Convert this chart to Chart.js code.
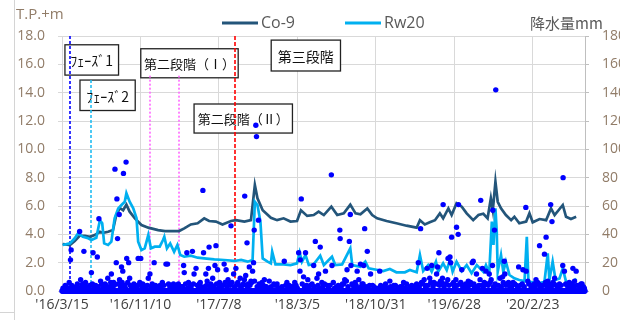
<!DOCTYPE html>
<html>
<head>
<meta charset="utf-8">
<script src="https://cdn.jsdelivr.net/npm/chart.js@4.4.1/dist/chart.umd.min.js"></script>
<style>
  body { margin: 0; background: #fff; }
  .wrap { position: relative; width: 620px; height: 322px; }
  .edge-v { position: absolute; left: 14px; top: 0; width: 1px; height: 320px; background: #d4d4d4; }
  .edge-h { position: absolute; left: 0; top: 312px; width: 14px; height: 1px; background: #d4d4d4; }
</style>
</head>
<body>
<div class="wrap">
  <canvas id="grafico" width="620" height="322"></canvas>
  <div class="edge-v"></div>
  <div class="edge-h"></div>
</div>
<script>
// day 0 = 2016/3/15, one x unit = one day
const baseYear = 2016, baseMonth = 2, baseDay = 15
const axisEndDay = 1600
const tickStepDays = 240

// groundwater level, T.P.+m : [day, level]
const co9 = [
  [2, 3.32], [24, 3.25], [39, 3.53], [54, 3.9], [70, 3.9], [85, 3.83], [100, 3.95],
  [116, 4.18], [126, 4.1], [141, 4.18], [156, 4.3], [166, 5.36], [177, 5.86], [187, 5.7],
  [197, 6.1], [207, 5.6], [223, 5.13], [243, 4.66], [264, 4.47], [294, 4.3], [315, 4.23],
  [358, 4.23], [374, 4.42], [394, 4.7], [415, 4.78], [435, 5.13], [450, 4.94], [471, 4.9],
  [491, 4.7], [517, 4.94], [532, 5.0], [558, 4.9], [578, 5.0], [590, 7.48], [598, 6.54],
  [614, 5.7], [639, 5.17], [658, 5.0], [678, 5.13], [699, 4.9], [719, 4.94], [731, 5.7],
  [750, 5.3], [770, 5.36], [785, 5.6], [801, 5.36], [824, 5.95], [842, 5.36], [862, 5.48],
  [882, 6.1], [898, 5.48], [913, 5.41], [934, 5.83], [949, 5.36], [964, 5.13], [993, 4.94],
  [1023, 4.78], [1054, 4.61], [1085, 4.47], [1095, 5.0], [1110, 4.7], [1125, 4.85],
  [1141, 5.0], [1156, 5.48], [1166, 5.13], [1182, 5.83], [1192, 5.36], [1207, 6.19],
  [1223, 5.95], [1238, 5.48], [1258, 5.0], [1274, 5.36], [1289, 5.45], [1302, 5.13],
  [1312, 6.54], [1318, 5.7], [1326, 7.71], [1333, 6.3], [1343, 5.83], [1358, 5.36],
  [1374, 5.0], [1384, 5.24], [1399, 4.78], [1420, 4.9], [1430, 5.48], [1440, 4.85],
  [1461, 5.08], [1481, 5.0], [1496, 5.83], [1507, 5.36], [1532, 6.07], [1542, 5.24],
  [1557, 5.08], [1573, 5.24]
]

const rw20 = [
  [2, 3.25], [24, 3.36], [39, 3.72], [49, 4.07], [64, 3.83], [80, 3.72], [90, 3.6],
  [105, 3.76], [116, 5.0], [123, 4.78], [129, 3.36], [141, 3.25], [151, 3.48], [161, 5.13],
  [172, 5.83], [182, 6.07], [192, 6.3], [197, 6.9], [207, 6.3], [218, 5.83], [228, 5.13],
  [233, 3.48], [243, 2.89], [253, 3.01], [264, 3.95], [272, 3.01], [284, 3.13], [299, 3.13],
  [309, 3.6], [313, 3.83], [321, 3.01], [331, 3.36], [343, 2.77], [353, 3.25], [362, 2.54],
  [374, 2.42], [394, 2.49], [415, 2.35], [435, 2.3], [466, 2.23], [496, 2.19], [527, 2.12],
  [548, 2.19], [568, 2.07], [583, 2.19], [590, 6.3], [598, 6.07], [607, 4.9], [614, 2.3],
  [629, 2.07], [639, 1.95], [643, 2.77], [653, 1.88], [678, 1.88], [699, 1.83], [719, 1.95],
  [727, 2.72], [734, 2.07], [745, 2.54], [755, 1.83], [770, 1.88], [790, 2.49], [801, 1.83],
  [816, 2.19], [826, 2.42], [836, 1.83], [857, 1.88], [882, 3.01], [888, 1.83], [913, 1.71],
  [928, 2.07], [938, 1.6], [962, 1.5], [983, 1.41], [1003, 1.55], [1023, 1.32], [1049, 1.32],
  [1064, 1.48], [1085, 1.32], [1095, 2.54], [1105, 1.41], [1120, 1.83], [1131, 1.36],
  [1144, 2.07], [1151, 1.36], [1166, 1.95], [1177, 1.48], [1187, 2.19], [1195, 1.36],
  [1207, 2.07], [1223, 1.41], [1238, 1.83], [1253, 1.25], [1269, 1.83], [1289, 1.36],
  [1297, 1.83], [1307, 1.25], [1315, 4.9], [1320, 3.25], [1326, 5.83], [1330, 4.18],
  [1333, 1.36], [1343, 2.54], [1350, 1.36], [1358, 2.07], [1369, 1.13], [1384, 0.89],
  [1399, 0.78], [1415, 0.7], [1422, 3.83], [1427, 0.66], [1440, 0.61], [1461, 0.54],
  [1476, 0.66], [1486, 2.66], [1491, 0.78], [1501, 2.07], [1510, 0.78], [1522, 0.89],
  [1532, 1.6], [1542, 0.66], [1563, 0.54], [1573, 0.89]
]

// daily rainfall, mm : [day, mm]  (days not listed had no rain)
const rainShowers = [
  [3, 2], [10, 4], [17, 1], [22, 6], [33, 3], [40, 2], [47, 5], [60, 3], [72, 6], [78, 2],
  [85, 4], [100, 3], [118, 7], [125, 2], [132, 5], [140, 9], [146, 3], [158, 6], [176, 8],
  [192, 4], [201, 6], [212, 3], [220, 5], [228, 2], [238, 6], [250, 4], [257, 3], [276, 5],
  [290, 2], [300, 4], [307, 6], [330, 3], [348, 2], [356, 5], [365, 3], [387, 6], [392, 4],
  [420, 5], [426, 3], [444, 7], [455, 5], [461, 9], [482, 6], [490, 4], [508, 8], [512, 5],
  [538, 6], [545, 9], [552, 4], [562, 11], [570, 5], [578, 7], [605, 4], [612, 6], [625, 3],
  [648, 5], [668, 2], [695, 4], [705, 3], [712, 6], [735, 5], [752, 8], [760, 4], [795, 6],
  [812, 4], [830, 6], [840, 3], [858, 5], [865, 8], [890, 4], [897, 6], [918, 5], [930, 3],
  [950, 4], [960, 2], [978, 3], [990, 5], [1010, 2], [1020, 4], [1035, 3], [1045, 6],
  [1062, 2], [1070, 4], [1078, 3], [1100, 6], [1108, 8], [1115, 4], [1138, 6], [1150, 5],
  [1158, 7], [1172, 5], [1180, 8], [1198, 6], [1217, 5], [1230, 4], [1250, 6], [1262, 3],
  [1275, 4], [1292, 6], [1300, 5], [1313, 8], [1330, 4], [1340, 9], [1362, 5], [1370, 3],
  [1380, 6], [1390, 4], [1408, 5], [1425, 7], [1435, 3], [1445, 5], [1455, 6], [1468, 4],
  [1486, 7], [1490, 5], [1502, 6], [1515, 3], [1522, 5], [1545, 4], [1552, 6], [1558, 3],
  [1580, 4], [1588, 5], [1595, 3],
  [6, 1], [13, 3], [20, 2], [30, 4], [36, 1], [44, 3], [51, 2], [63, 5], [69, 1], [75, 3],
  [82, 2], [93, 5], [97, 2], [103, 4], [111, 3], [121, 5], [129, 3], [135, 4], [143, 2],
  [149, 6], [155, 3], [160, 4], [172, 5], [179, 3], [184, 6], [194, 2], [209, 4], [216, 2],
  [224, 3], [231, 4], [244, 3], [247, 5], [254, 2], [261, 4], [272, 3], [279, 2], [286, 4],
  [296, 3], [303, 2], [312, 4], [326, 5], [335, 2], [344, 3], [352, 4], [361, 2], [369, 3],
  [378, 5], [384, 2], [395, 3], [402, 5], [414, 4], [418, 2], [423, 6], [437, 3], [442, 4],
  [452, 2], [458, 4], [465, 3], [473, 5], [479, 2], [486, 3], [493, 4], [499, 6], [505, 3],
  [515, 4], [520, 6], [528, 3], [535, 5], [541, 4], [548, 3], [555, 5], [564, 4], [568, 3],
  [575, 4], [580, 6], [597, 3], [603, 5], [609, 2], [616, 4], [622, 3], [630, 2], [640, 3],
  [652, 4], [662, 2], [673, 3], [684, 4], [692, 2], [700, 3], [716, 4], [720, 2], [742, 3],
  [748, 4], [756, 3], [765, 5], [772, 3], [783, 4], [788, 2], [798, 3], [803, 5], [815, 3],
  [820, 4], [834, 2], [845, 4], [854, 3], [862, 5], [875, 3], [887, 5], [893, 3], [900, 4],
  [906, 2], [916, 3], [921, 5], [937, 2], [941, 4], [954, 3], [968, 2], [975, 4], [985, 3],
  [995, 2], [1005, 3], [1015, 4], [1028, 2], [1040, 3], [1050, 2], [1066, 3], [1082, 4],
  [1093, 3], [1104, 5], [1112, 3], [1120, 4], [1128, 6], [1135, 3], [1142, 5], [1155, 4],
  [1161, 6], [1169, 3], [1176, 5], [1184, 4], [1195, 5], [1201, 3], [1209, 4], [1220, 6],
  [1226, 3], [1235, 5], [1240, 2], [1247, 4], [1260, 5], [1266, 3], [1272, 2], [1284, 4],
  [1289, 3], [1295, 5], [1304, 4], [1310, 6], [1320, 3], [1325, 5], [1335, 4], [1344, 3],
  [1358, 4], [1366, 6], [1375, 3], [1385, 5], [1394, 3], [1402, 4], [1414, 3], [1428, 5],
  [1440, 4], [1448, 3], [1458, 5], [1464, 3], [1472, 4], [1479, 6], [1484, 3], [1493, 4],
  [1497, 3], [1505, 5], [1512, 4], [1518, 3], [1527, 4], [1541, 5], [1548, 3], [1555, 4],
  [1561, 5], [1566, 3], [1575, 4], [1584, 3], [1591, 5], [1598, 2]
]

const rainEvents = [
  [162, 86], [196, 91], [188, 83], [168, 65], [175, 54], [113, 51], [431, 71], [593, 117],
  [595, 109], [559, 67], [732, 65], [1327, 142], [824, 82], [882, 54], [1166, 61], [1213, 61],
  [1281, 64], [1318, 57], [1419, 59], [1495, 61], [1533, 80],
  [54, 42], [28, 29], [67, 28], [95, 27], [26, 22], [108, 24], [90, 13], [170, 37], [198, 23],
  [166, 20], [182, 17], [204, 20], [151, 12], [186, 14], [207, 9], [57, 8], [233, 23],
  [241, 23], [282, 20], [269, 12], [264, 9], [318, 19],
  [517, 46], [601, 50], [588, 43], [566, 34], [471, 32], [450, 31], [399, 28], [433, 27],
  [382, 27], [586, 20], [323, 19], [372, 18], [410, 16], [468, 18], [496, 19], [448, 16],
  [374, 13], [404, 12], [440, 12], [476, 15], [502, 15], [525, 12], [532, 16], [573, 17],
  [583, 14], [589, 7], [619, 8], [634, 7], [558, 8], [341, 5],
  [926, 44], [850, 43], [851, 37], [879, 35], [790, 31], [775, 35], [934, 28], [724, 27],
  [745, 27], [680, 21], [729, 22], [770, 18], [826, 18], [884, 18], [913, 19], [728, 14],
  [785, 12], [806, 14], [872, 15], [903, 14], [923, 18], [944, 12], [739, 10], [780, 9],
  [870, 7], [908, 8], [688, 6], [658, 5],
  [1097, 44], [1207, 45], [1212, 40], [1192, 38], [1153, 27], [1187, 24], [1090, 20],
  [1131, 18], [1189, 20], [1258, 21], [1268, 12], [972, 14], [1146, 12], [1223, 15],
  [1003, 7], [1054, 5], [1085, 5], [1125, 9], [1164, 9], [1205, 8], [1243, 7], [1279, 8],
  [1117, 16], [1149, 17], [1181, 23], [1255, 20], [1286, 16], [1317, 18], [1348, 10],
  [1410, 15],
  [1499, 49], [1323, 43], [1481, 38], [1461, 32], [1476, 26], [1353, 21], [1397, 17],
  [1532, 18], [1563, 16], [1573, 14], [1297, 14], [1307, 12], [1355, 12], [1420, 14],
  [1537, 14], [1507, 9], [1350, 6], [1450, 8], [1568, 7]
]

// phase boxes on the plot: day range and level range (left axis)
const phaseBoxes = [
  { text: 'ﾌｪｰｽﾞ1', x0: 9, x1: 173, top: 17.38, bottom: 15.24, size: 14 },
  { text: 'ﾌｪｰｽﾞ2', x0: 55, x1: 224, top: 14.89, bottom: 12.74, size: 14 },
  { text: '第二段階（Ⅰ）', x0: 241, x1: 539, top: 17.1, bottom: 15.05, size: 13 },
  { text: '第三段階', x0: 640, x1: 852, top: 17.71, bottom: 15.53, size: 14 },
  { text: '第二段階（Ⅱ）', x0: 404, x1: 705, top: 13.2, bottom: 11.15, size: 13 }
]

// phase change dates
const phaseLines = [
  { day: 24, top: 18, bottom: 0, color: '#0000ff', dash: [3, 2] },
  { day: 88, top: 14.9, bottom: 0.2, color: '#22bdf2', dash: [3, 2] },
  { day: 270, top: 15.2, bottom: 0.2, color: '#ff66ff', dash: [2, 2] },
  { day: 358, top: 15.2, bottom: 0.4, color: '#ff66ff', dash: [2, 2] },
  { day: 530, top: 18, bottom: 0.9, color: '#ff0000', dash: [4, 2] }
]

function dayLabel(day) {
  const d = new Date(baseYear, baseMonth, baseDay + day)
  return "'" + String(d.getFullYear()).slice(2) + '/' + (d.getMonth() + 1) + '/' + d.getDate()
}

const paraPontos = (lista) => lista.map(p => ({ x: p[0], y: p[1] }))

const chuvaPorDia = new Map(rainShowers)
rainEvents.forEach(p => chuvaPorDia.set(p[0], p[1]))
const chuva = []
for (let day = 0; day <= axisEndDay; day++) {
  chuva.push({ x: day, y: chuvaPorDia.get(day) || 0 })
}

const corCo9 = '#23557a'
const corRw20 = '#00b0f0'
const corGrade = '#d9d9d9'
const corEixo = '#917c68'

const extras = {
  id: 'extras',
  beforeDatasetsDraw(chart) {
    const ctx = chart.ctx
    const x = chart.scales.x, y = chart.scales.yL
    ctx.save()
    phaseBoxes.forEach(b => {
      const l = x.getPixelForValue(b.x0), r = x.getPixelForValue(b.x1)
      const t = y.getPixelForValue(b.top), btm = y.getPixelForValue(b.bottom)
      ctx.fillStyle = '#fff'
      ctx.fillRect(l, t, r - l, btm - t)
      ctx.strokeStyle = '#222'
      ctx.lineWidth = 1.3
      ctx.setLineDash([])
      ctx.strokeRect(l, t, r - l, btm - t)
      ctx.fillStyle = '#111'
      ctx.font = b.size + 'px "Noto Sans CJK JP"'
      ctx.textAlign = 'center'
      ctx.textBaseline = 'middle'
      ctx.fillText(b.text, (l + r) / 2, (t + btm) / 2 + 1)
    })
    phaseLines.forEach(p => {
      const px = Math.round(x.getPixelForValue(p.day))
      ctx.strokeStyle = p.color
      ctx.lineWidth = 1.6
      ctx.setLineDash(p.dash)
      ctx.beginPath()
      ctx.moveTo(px, y.getPixelForValue(p.top))
      ctx.lineTo(px, y.getPixelForValue(p.bottom))
      ctx.stroke()
    })
    ctx.restore()
  },
  afterDraw(chart) {
    const ctx = chart.ctx
    ctx.save()
    ctx.setLineDash([])
    ctx.textBaseline = 'middle'
    ctx.textAlign = 'left'
    ctx.font = '15px "Open Sans"'
    ctx.fillStyle = corEixo
    ctx.fillText('T.P.+m', 16, 15)
    ctx.fillStyle = '#595959'
    ctx.font = '15px "Noto Sans CJK JP"'
    ctx.fillText('降水量mm', 530, 23)
    // legend
    const itens = [
      { label: 'Co-9', color: corCo9, x: 222 },
      { label: 'Rw20', color: corRw20, x: 345 }
    ]
    itens.forEach(it => {
      ctx.strokeStyle = it.color
      ctx.lineWidth = 3
      ctx.beginPath()
      ctx.moveTo(it.x, 23)
      ctx.lineTo(it.x + 36, 23)
      ctx.stroke()
      ctx.fillStyle = '#595959'
      ctx.font = '16px "Open Sans"'
      ctx.fillText(it.label, it.x + 39, 23)
    })
    ctx.restore()
  }
}

const config = {
  type: 'line',
  data: {
    datasets: [
      {
        label: '降水量',
        type: 'scatter',
        data: chuva,
        yAxisID: 'yR',
        backgroundColor: '#0000ff',
        borderWidth: 0,
        pointRadius: 2.7,
        showLine: false,
        clip: false,
        order: 0
      },
      {
        label: 'Rw20',
        data: paraPontos(rw20),
        yAxisID: 'yL',
        borderColor: corRw20,
        borderWidth: 2.7,
        pointRadius: 0,
        tension: 0,
        order: 1
      },
      {
        label: 'Co-9',
        data: paraPontos(co9),
        yAxisID: 'yL',
        borderColor: corCo9,
        borderWidth: 2.7,
        pointRadius: 0,
        tension: 0,
        order: 2
      }
    ]
  },
  options: {
    responsive: false,
    animation: false,
    devicePixelRatio: 1,
    layout: { padding: { top: 36, left: 0, right: 0, bottom: 0 } },
    plugins: { legend: { display: false }, tooltip: { enabled: false } },
    scales: {
      x: {
        type: 'linear',
        min: 0,
        max: axisEndDay,
        afterBuildTicks: (s) => { s.ticks = s.ticks.filter(t => t.value % tickStepDays === 0) },
        afterFit: (s) => { s.height = 31 },
        ticks: {
          stepSize: tickStepDays,
          autoSkip: false,
          maxRotation: 0,
          padding: 6,
          color: '#404040',
          font: { family: 'Open Sans', size: 14 },
          callback: (v) => dayLabel(v)
        },
        grid: { color: corGrade, drawTicks: false },
        border: { color: corGrade }
      },
      yL: {
        position: 'left',
        min: 0,
        max: 18,
        afterFit: (s) => { s.width = 62 },
        ticks: {
          stepSize: 2,
          padding: 13,
          color: corEixo,
          font: { family: 'Open Sans', size: 14 },
          callback: (v) => v.toFixed(1)
        },
        grid: { color: corGrade, tickLength: 4 },
        border: { color: corGrade }
      },
      yR: {
        position: 'right',
        min: 0,
        max: 180,
        afterFit: (s) => { s.width = 35 },
        ticks: {
          stepSize: 20,
          padding: 13,
          color: corEixo,
          font: { family: 'Open Sans', size: 14 }
        },
        grid: { drawOnChartArea: false, color: '#bfbfbf', tickLength: 4 },
        border: { color: '#bfbfbf' }
      }
    }
  },
  plugins: [extras]
}

new Chart(document.getElementById('grafico').getContext('2d'), config)
</script>
</body>
</html>
